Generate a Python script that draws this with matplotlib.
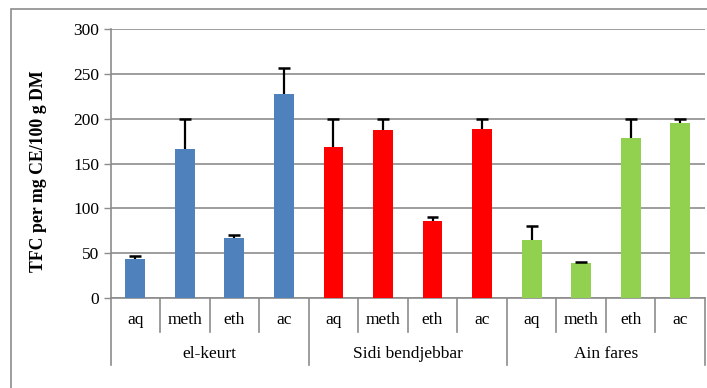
import matplotlib
matplotlib.use("Agg")
import matplotlib.pyplot as plt
from matplotlib.patches import Rectangle
from matplotlib.lines import Line2D

plt.rcParams['font.family'] = ['Liberation Serif', 'DejaVu Serif']

# Extraction solvents per site, TFC means and upper error values
sites = ["el-keurt", "Sidi bendjebbar", "Ain fares"]
solvents = ["aq", "meth", "eth", "ac"]
elkeurt_vals = [43, 166, 67, 228]
elkeurt_err = [4, 34, 3.5, 28]
sidi_vals = [168, 187, 86, 188]
sidi_err = [32, 13, 4.5, 12]
ainfares_vals = [65, 39, 178, 195]
ainfares_err = [15, 1.5, 22, 5]
site_colors = ["#4F81BD", "#FF0000", "#92D050"]
y_ticks = [0, 50, 100, 150, 200, 250, 300]
y_label = "TFC per mg CE/100 g DM"

W, H = 707, 388
fig = plt.figure(figsize=(W / 100, H / 100), dpi=100)

left, right, top, bottom = 110.5, 705, 29, 298
ax = fig.add_axes([left / W, 1 - bottom / H, (right - left) / W, (bottom - top) / H])

grey = "#8C8C8C"
fs = 12.5
values = [elkeurt_vals, sidi_vals, ainfares_vals]
errors = [elkeurt_err, sidi_err, ainfares_err]
n = len(solvents)
cap = 0.12
for g, (vals, errs, col) in enumerate(zip(values, errors, site_colors)):
    xs = [g * n + i + 0.5 for i in range(n)]
    ax.bar(xs, vals, width=0.4, color=col, zorder=3)
    # upper-only error bars
    tops = [v + e for v, e in zip(vals, errs)]
    ax.vlines(xs, vals, tops, colors='black', linewidth=1.6, zorder=4)
    ax.hlines(tops, [x - cap for x in xs], [x + cap for x in xs],
              colors='black', linewidth=1.8, zorder=4)

ax.set_xlim(0, n * len(sites))
ax.set_ylim(0, 300)
ax.set_yticks(y_ticks)
ax.set_yticklabels([str(t) for t in y_ticks], fontsize=fs)
ax.yaxis.grid(True, color=grey, linewidth=1.2, zorder=0)
ax.set_xticks([])
ax.tick_params(axis='y', length=5, width=1, color=grey, pad=3)
for s in ["top", "right"]:
    ax.spines[s].set_visible(False)
for s in ["left", "bottom"]:
    ax.spines[s].set_color(grey)
    ax.spines[s].set_linewidth(1.2)

ax.set_ylabel(y_label, fontsize=12.8, fontweight='bold')
ax.yaxis.set_label_coords((47 - left) / (right - left), (bottom - 171) / (bottom - top))

# Two-level category axis below the plot
tr = ax.get_xaxis_transform()
inner_depth = -(331.7 - bottom) / (bottom - top)
outer_depth = -(365 - bottom) / (bottom - top)
label_y = -(320 - bottom) / (bottom - top)
group_y = -(354 - bottom) / (bottom - top)
for k in range(n * len(sites) + 1):
    depth = outer_depth if k % n == 0 else inner_depth
    ax.add_line(Line2D([k, k], [0, depth], transform=tr, color=grey,
                       linewidth=1.2, clip_on=False))
for g, site in enumerate(sites):
    for i, sol in enumerate(solvents):
        ax.text(g * n + i + 0.5, label_y, sol, transform=tr, ha='center',
                va='center', fontsize=fs)
    ax.text(g * n + n / 2, group_y, site, transform=tr, ha='center',
            va='center', fontsize=fs)

# Chart frame
fig.patches.append(Rectangle((11 / W, -0.1), 1.2, 1.1 - 9.5 / H,
                             transform=fig.transFigure, fill=False,
                             edgecolor=grey, linewidth=1.2))

fig.savefig("out.png", dpi=100)
